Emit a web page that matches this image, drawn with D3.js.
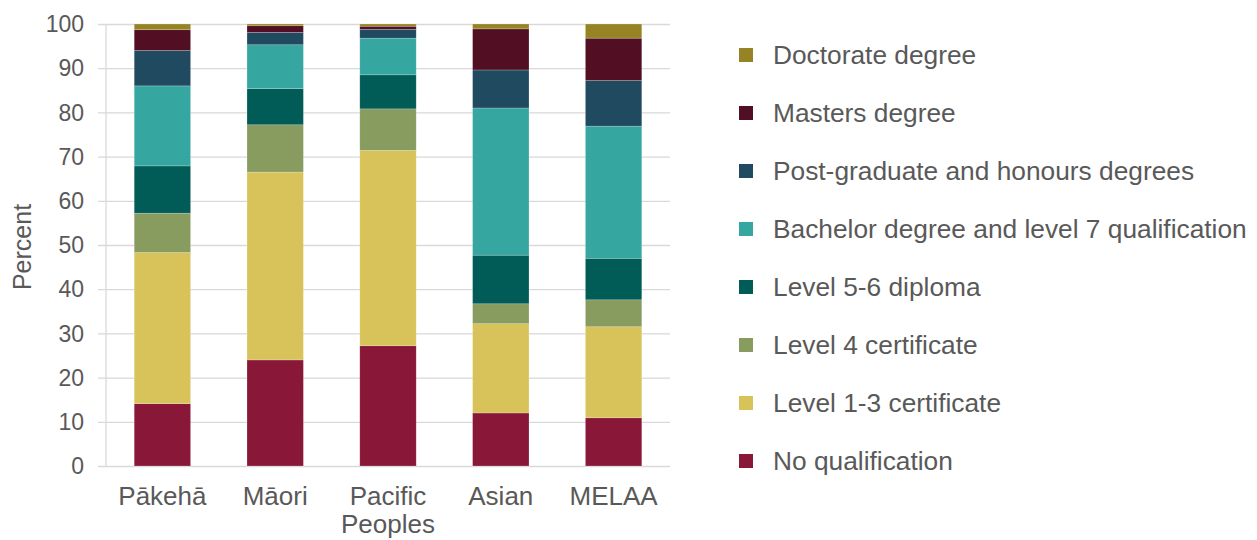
<!DOCTYPE html>
<html>
<head>
<meta charset="utf-8">
<script src="https://cdn.jsdelivr.net/npm/d3@7"></script>
<style>
  html, body { margin: 0; padding: 0; background: #fff; }
  svg { display: block; }
</style>
</head>
<body>
<svg id="chart" width="1257" height="540"></svg>
<script>
// Highest qualification by ethnic group (percent)
const groups = ["Pākehā", "Māori", "Pacific Peoples", "Asian", "MELAA"];
const groupLines = [["Pākehā"], ["Māori"], ["Pacific", "Peoples"], ["Asian"], ["MELAA"]];

// Stack order, bottom to top
const levels = [
  "No qualification",
  "Level 1-3 certificate",
  "Level 4 certificate",
  "Level 5-6 diploma",
  "Bachelor degree and level 7 qualification",
  "Post-graduate and honours degrees",
  "Masters degree",
  "Doctorate degree"
];
const levelColors = ["#891737", "#d8c35a", "#889c60", "#015c58", "#36a6a0", "#204a60", "#520e22", "#968323"];

// One array per qualification level, values in group order
const noQualification = [14.1, 24.0, 27.2, 12.0, 10.9];
const level13 =         [34.2, 42.5, 44.2, 20.2, 20.6];
const level4 =          [8.9, 10.7, 9.4, 4.5, 6.1];
const level56 =         [10.7, 8.2, 7.7, 11.0, 9.4];
const bachelor =        [18.1, 9.9, 8.3, 33.3, 29.9];
const postgrad =        [8.0, 2.8, 2.0, 8.6, 10.3];
const masters =         [4.7, 1.5, 0.7, 9.3, 9.6];
const doctorate =       [1.3, 0.4, 0.5, 1.1, 3.2];

const yTicks = [0, 10, 20, 30, 40, 50, 60, 70, 80, 90, 100];

const seriesValues = [noQualification, level13, level4, level56, bachelor, postgrad, masters, doctorate];
const rows = groups.map((g, i) => {
  const r = { group: g };
  levels.forEach((l, j) => { r[l] = seriesValues[j][i]; });
  return r;
});

const svg = d3.select("#chart");
const textColor = "#595959";
const gridColor = "#d9d9d9";
const fontFamily = "'Liberation Sans', Arial, sans-serif";

const x = d3.scaleBand().domain(groups).range([106, 670]).paddingInner(0.5).paddingOuter(0.25);
const y = d3.scaleLinear().domain([0, 100]).range([466, 24]);

// Gridlines with short outside ticks
svg.append("g")
  .attr("transform", "translate(106,0)")
  .call(d3.axisLeft(y).tickValues(yTicks).tickSize(-564).tickSizeOuter(0).tickFormat(""))
  .call(g => g.select(".domain").remove())
  .call(g => g.selectAll(".tick line").attr("stroke", gridColor).attr("stroke-width", 1.3).attr("x1", -8));

// Vertical axis line
svg.append("line")
  .attr("x1", 106).attr("x2", 106).attr("y1", y(100)).attr("y2", y(0))
  .attr("stroke", gridColor).attr("stroke-width", 1.3);

// Y tick labels
svg.append("g")
  .selectAll("text")
  .data(yTicks)
  .join("text")
  .attr("x", 84)
  .attr("y", d => y(d))
  .attr("dy", "0.36em")
  .attr("text-anchor", "end")
  .attr("font-family", fontFamily)
  .attr("font-size", 23)
  .attr("fill", textColor)
  .text(d => d);

// Y axis title
svg.append("text")
  .attr("transform", "translate(31,247) rotate(-90)")
  .attr("text-anchor", "middle")
  .attr("font-family", fontFamily)
  .attr("font-size", 25)
  .attr("fill", textColor)
  .text("Percent");

// Stacked bars
const stack = d3.stack().keys(levels)(rows);
svg.append("g")
  .selectAll("g")
  .data(stack)
  .join("g")
  .attr("fill", (d, i) => levelColors[i])
  .selectAll("rect")
  .data(d => d)
  .join("rect")
  .attr("x", d => x(d.data.group))
  .attr("width", x.bandwidth())
  .attr("y", d => y(d[1]))
  .attr("height", d => y(d[0]) - y(d[1]))
  .attr("stroke", "rgba(255,255,255,0.35)")
  .attr("stroke-width", 0.6);

// Category labels
const xl = svg.append("g")
  .selectAll("text")
  .data(groups)
  .join("text")
  .attr("x", d => x(d) + x.bandwidth() / 2)
  .attr("y", 505)
  .attr("text-anchor", "middle")
  .attr("font-family", fontFamily)
  .attr("font-size", 26)
  .attr("fill", textColor);
xl.selectAll("tspan")
  .data((d, i) => groupLines[i])
  .join("tspan")
  .attr("x", function () { return d3.select(this.parentNode).attr("x"); })
  .attr("dy", (d, i) => i === 0 ? 0 : 28)
  .text(d => d);

// Legend, top to bottom
const legendOrder = levels.map((l, i) => ({ label: l, color: levelColors[i] })).reverse();
const legend = svg.append("g")
  .selectAll("g")
  .data(legendOrder)
  .join("g")
  .attr("transform", (d, i) => `translate(739,${55 + i * 58})`);
legend.append("rect")
  .attr("x", 0).attr("y", -7).attr("width", 14).attr("height", 14)
  .attr("fill", d => d.color);
legend.append("text")
  .attr("x", 34)
  .attr("y", 0)
  .attr("dy", "0.36em")
  .attr("font-family", fontFamily)
  .attr("font-size", 26.3)
  .attr("fill", textColor)
  .text(d => d.label);
</script>
</body>
</html>
